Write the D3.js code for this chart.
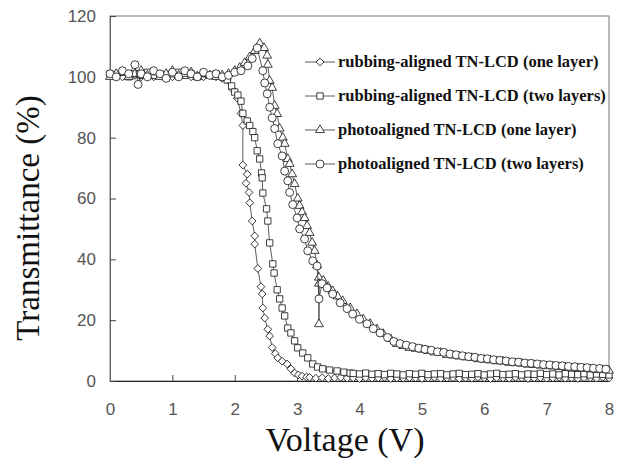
<!DOCTYPE html>
<html>
<head>
<meta charset="utf-8">
<script src="https://cdn.jsdelivr.net/npm/d3@7"></script>
<style>
  body { margin: 0; background: #fff; }
  svg { display: block; }
</style>
</head>
<body>
<svg id="chart" width="621" height="465"></svg>
<script>
// [voltage, transmittance]
const rubOne = [
  [0,100.5],[0.1,101],[0.2,100],[0.3,101],[0.4,100.5],[0.5,100],[0.6,101],[0.7,100],[0.8,100.5],[0.9,101],
  [1.0,100],[1.1,100.5],[1.2,101],[1.3,100],[1.4,100.5],[1.5,100],[1.6,100.5],[1.7,100],[1.8,99.5],[1.88,99],
  [1.96,96],[2.04,93],[2.1,88],[2.13,84],[2.13,71],[2.2,68],[2.18,65],[2.23,62],[2.24,58.6],[2.28,52.6],
  [2.32,47.7],[2.32,45],[2.37,37],[2.42,31],[2.44,28.6],[2.45,24],[2.48,20.7],[2.53,17],[2.56,14.8],[2.6,11],
  [2.65,9],[2.69,7.6],[2.76,6.5],[2.84,5.6],[2.9,4],[2.96,2.6],[3.02,2],[3.08,1.6],[3.15,1.3],
  [3.2,1.2],[3.3,0.9],[3.4,1.1],[3.5,0.8],[3.6,1.0],[3.7,1.2],[3.8,0.9],[3.9,1.0],[4.0,0.8],[4.1,1.1],
  [4.2,0.9],[4.3,1.0],[4.4,1.2],[4.5,0.8],[4.6,1.0],[4.7,0.9],[4.8,1.1],[4.9,1.0],[5.0,0.8],[5.1,1.0],
  [5.2,1.2],[5.3,0.9],[5.4,1.0],[5.5,1.1],[5.6,0.8],[5.7,1.0],[5.8,0.9],[5.9,1.2],[6.0,1.0],[6.1,0.8],
  [6.2,1.1],[6.3,1.0],[6.4,0.9],[6.5,1.2],[6.6,1.0],[6.7,0.8],[6.8,1.0],[6.9,1.1],[7.0,0.9],[7.1,1.0],
  [7.2,1.2],[7.3,0.9],[7.4,1.0],[7.5,0.8],[7.6,1.1],[7.7,1.0],[7.8,0.9],[7.9,1.2],[8.0,1.0]
]

const rubTwo = [
  [0,101],[0.1,100.5],[0.2,101.5],[0.3,100],[0.4,101],[0.5,100.5],[0.6,101.5],[0.7,100.5],[0.8,101],[0.9,100],
  [1.0,101],[1.1,101.5],[1.2,100.5],[1.3,101],[1.4,100],[1.5,101],[1.6,100.5],[1.7,101],[1.8,100],[1.88,99],
  [1.95,97],[2.0,95],[2.05,94],[2.1,92],[2.13,88],[2.2,85.5],[2.24,84],[2.29,82],[2.32,80],[2.36,75.7],
  [2.4,73],[2.43,68.4],[2.44,66.8],[2.45,61.8],[2.51,56.6],[2.53,52.6],[2.56,45.4],[2.61,38.5],[2.63,35.5],[2.68,30],
  [2.72,27],[2.76,24],[2.8,21.4],[2.85,17.4],[2.9,15.8],[2.96,13.2],[3.01,10.9],[3.09,9.2],[3.17,7.6],[3.25,5.6],
  [3.33,4.6],[3.41,4],[3.52,3.6],[3.64,3.3],[3.75,2.9],[3.85,2.6],
  [3.9,2.5],[4.0,2.3],[4.1,2.6],[4.2,2.2],[4.3,2.4],[4.4,2.1],[4.5,2.5],[4.6,2.3],[4.7,2.0],[4.8,2.4],
  [4.9,2.2],[5.0,2.5],[5.1,2.1],[5.2,2.3],[5.3,2.4],[5.4,2.0],[5.5,2.3],[5.6,2.5],[5.7,2.1],[5.8,2.2],
  [5.9,2.4],[6.0,2.0],[6.1,2.3],[6.2,2.5],[6.3,2.1],[6.4,2.2],[6.5,2.4],[6.6,2.0],[6.7,2.3],[6.8,2.2],
  [6.9,2.5],[7.0,2.1],[7.1,2.3],[7.2,2.0],[7.3,2.4],[7.4,2.2],[7.5,2.1],[7.6,2.4],[7.7,2.0],[7.8,2.3],
  [7.9,2.2],[8.0,2.0]
]

const photoOne = [
  [0,100],[0.1,101],[0.2,101.5],[0.3,100],[0.4,101],[0.5,102],[0.6,100.5],[0.7,101.5],[0.8,100],[0.9,101],
  [1.0,102],[1.1,100.5],[1.2,101],[1.3,101.5],[1.4,100],[1.5,101],[1.6,100.5],[1.7,100],[1.8,100.5],[1.9,101],
  [2.0,102],[2.08,103],[2.16,104.6],[2.24,106.5],[2.32,108.5],[2.4,111],[2.47,109.5],[2.52,107],[2.53,104],[2.56,98.7],
  [2.6,96.4],[2.64,90.5],[2.68,87.8],[2.72,83],[2.77,80],[2.8,78],[2.85,73],[2.88,71.4],[2.92,68],[2.96,64.8],
  [3.01,60],[3.04,57.6],[3.08,55.5],[3.12,53.6],[3.16,51],[3.2,48.7],[3.24,45.5],[3.28,42.8],[3.32,38],[3.35,34],
  [3.35,18.7],[3.35,32],[3.42,33],[3.5,31],[3.57,29.6],[3.65,27.8],[3.73,26.3],[3.85,24],[3.96,22],[4.06,20.3],
  [4.17,18.8],[4.28,17],[4.38,15.5],[4.5,13.8],[4.6,12.2],[4.7,11.5],[4.8,10.9],[4.9,10.6],[5.0,10.3],[5.1,9.9],
  [5.2,9.4],[5.3,9.3],[5.4,8.6],[5.5,8.4],[5.6,8.1],[5.7,7.8],[5.8,7.6],[5.9,7.2],[6.0,7.0],[6.1,6.8],
  [6.2,6.5],[6.3,6.4],[6.4,6.0],[6.5,5.9],[6.6,5.7],[6.7,5.4],[6.8,5.3],[6.9,5.1],[7.0,4.9],[7.1,4.8],
  [7.2,4.6],[7.3,4.5],[7.4,4.2],[7.5,4.2],[7.6,4.0],[7.7,3.9],[7.8,3.6],[7.9,3.6],[8.0,3.4]
]

const photoTwo = [
  [0,101],[0.1,100],[0.2,102],[0.3,101],[0.4,104],[0.45,97.5],[0.5,101],[0.6,100],[0.7,102],[0.8,101],
  [0.9,99.5],[1.0,101.5],[1.1,100],[1.2,102],[1.3,101],[1.4,100],[1.5,101.5],[1.6,100.5],[1.7,101],[1.8,100],
  [1.9,100.5],[2.0,101.5],[2.1,102],[2.21,103.6],[2.28,106],[2.36,109.5],[2.45,102],[2.48,98],[2.52,94.4],[2.56,90],
  [2.6,86.5],[2.64,83],[2.69,78],[2.76,74],[2.8,69],[2.85,65.8],[2.88,62],[2.93,58],[3.0,53.6],[3.04,50],
  [3.12,46.7],[3.17,42.8],[3.25,39.5],[3.32,37.8],[3.35,27],[3.4,32],[3.48,30.6],[3.57,28.6],[3.69,25.7],[3.8,23.8],
  [3.89,22],[4.0,20.3],[4.12,18.8],[4.22,17.2],[4.33,15.8],[4.45,14.3],[4.55,13],[4.65,12.3],[4.75,11.8],[4.85,11.3],
  [4.95,10.8],[5.05,10.4],[5.15,10.1],[5.25,9.6],[5.35,9.4],[5.45,8.9],[5.55,8.6],[5.65,8.3],[5.75,8.0],[5.85,7.8],
  [5.95,7.4],[6.05,7.3],[6.15,7.0],[6.25,6.8],[6.35,6.6],[6.45,6.3],[6.55,6.2],[6.65,5.9],[6.75,5.8],[6.85,5.6],
  [6.95,5.4],[7.05,5.3],[7.15,5.1],[7.25,5.0],[7.35,4.8],[7.45,4.7],[7.55,4.5],[7.65,4.4],[7.75,4.2],[7.85,4.1],
  [7.95,3.9]
]

const seriesNames = [
  'rubbing-aligned TN-LCD (one layer)',
  'rubbing-aligned TN-LCD (two layers)',
  'photoaligned TN-LCD (one layer)',
  'photoaligned TN-LCD (two layers)'
]
const xTicks = [0, 1, 2, 3, 4, 5, 6, 7, 8]
const yTicks = [0, 20, 40, 60, 80, 100, 120]

let svg = d3.select('#chart')

let x = d3.scaleLinear().domain([0, 8]).range([110, 609])
let y = d3.scaleLinear().domain([0, 120]).range([381, 16])

//marker shapes: diamond, square, triangle, circle
let shapes = [
  d3.symbol().type(d3.symbolSquare).size(30),
  d3.symbol().type(d3.symbolSquare).size(40),
  d3.symbol().type(d3.symbolTriangle).size(34),
  d3.symbol().type(d3.symbolCircle).size(50)
]
let rotations = [45, 0, 0, 0]
let allSeries = [rubOne, rubTwo, photoOne, photoTwo]

// frame
svg.append('rect')
  .attr('x', x(0)).attr('y', y(120))
  .attr('width', x(8) - x(0)).attr('height', y(0) - y(120))
  .style('fill', 'none').style('stroke', '#777').attr('stroke-width', 1)

// axes with inward ticks
let xAxis = d3.axisBottom(x).tickValues(xTicks).tickSizeInner(-6).tickSizeOuter(0).tickPadding(22)
let yAxis = d3.axisLeft(y).tickValues(yTicks).tickSizeInner(-6).tickSizeOuter(0).tickPadding(14)

let gx = svg.append('g').attr('transform', 'translate(0,' + y(0) + ')').call(xAxis)
let gy = svg.append('g').attr('transform', 'translate(' + x(0) + ',0)').call(yAxis)

gx.select('.domain').style('stroke', '#222')
gy.select('.domain').style('stroke', '#666')
svg.selectAll('.tick line').style('stroke', '#444')
svg.selectAll('.tick text')
  .style('font-family', '"Liberation Sans", Arial, sans-serif')
  .style('font-size', '17px')
  .style('fill', '#555')

// curves
let line = d3.line().x(d => x(d[0])).y(d => y(d[1]))

allSeries.forEach(function (data, i) {
  svg.append('path')
    .attr('d', line(data))
    .style('fill', 'none')
    .style('stroke', '#333')
    .attr('stroke-width', 0.8)

  svg.append('g').selectAll('path')
    .data(data)
    .enter()
    .append('path')
    .attr('d', shapes[i])
    .attr('transform', d => 'translate(' + x(d[0]) + ',' + y(d[1]) + ') rotate(' + rotations[i] + ')')
    .style('fill', '#fff')
    .style('stroke', '#111')
    .attr('stroke-width', 0.8)
})

// legend
let legend = svg.append('g')
seriesNames.forEach(function (name, i) {
  let ly = 62 + i * 34
  legend.append('line')
    .attr('x1', 305).attr('x2', 335).attr('y1', ly).attr('y2', ly)
    .style('stroke', '#333').attr('stroke-width', 0.8)
  legend.append('path')
    .attr('d', shapes[i])
    .attr('transform', 'translate(320,' + ly + ') rotate(' + rotations[i] + ')')
    .style('fill', '#fff').style('stroke', '#111').attr('stroke-width', 0.8)
  legend.append('text')
    .attr('x', 338).attr('y', ly + 5)
    .style('font-family', '"Liberation Serif", "Times New Roman", serif')
    .style('font-weight', 'bold')
    .style('font-size', '16.5px')
    .style('fill', '#111')
    .text(name)
})

// axis titles
svg.append('text')
  .attr('x', 345).attr('y', 451)
  .attr('text-anchor', 'middle')
  .style('font-family', '"Liberation Serif", "Times New Roman", serif')
  .style('font-size', '34px')
  .style('fill', '#111')
  .text('Voltage (V)')

svg.append('text')
  .attr('transform', 'translate(39,218) rotate(-90)')
  .attr('text-anchor', 'middle')
  .style('font-family', '"Liberation Serif", "Times New Roman", serif')
  .style('font-size', '33px')
  .style('fill', '#111')
  .text('Transmittance (%)')
</script>
</body>
</html>
